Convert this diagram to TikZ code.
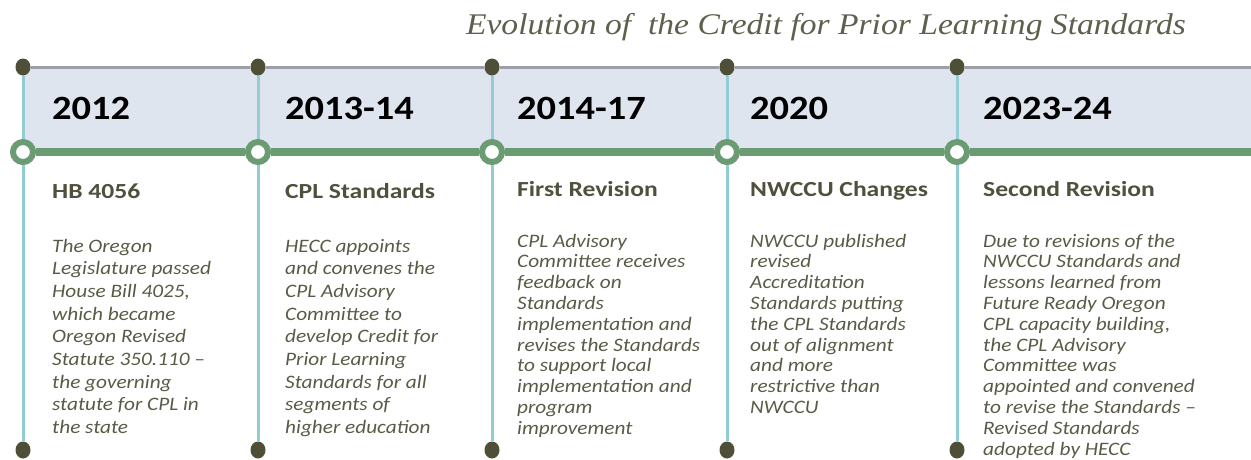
\documentclass[tikz,border=0pt]{standalone}
\usepackage{fontspec}
\setmainfont{Carlito}
\newfontfamily\yearfont[FakeStretch=1.13]{Carlito Bold}
\newfontfamily\headfont[FakeStretch=1.19]{Carlito Bold}
\newfontfamily\bodyfont[FakeStretch=1.12]{Carlito Italic}
\newfontfamily\titlefont[FakeStretch=1.12]{Liberation Serif Italic}
\usetikzlibrary{positioning,shapes.geometric}
\definecolor{bandfill}{HTML}{DEE5EE}
\definecolor{topgray}{HTML}{9C9EAA}
\definecolor{dotbrown}{HTML}{4F4F38}
\definecolor{stemteal}{HTML}{92CDD3}
\definecolor{lineGreen}{HTML}{6A9B72}
\definecolor{headcol}{HTML}{50503D}
\definecolor{bodycol}{HTML}{5A5A47}
\definecolor{titlecol}{HTML}{5F5F4E}
\tikzset{
  dot/.style={ellipse, fill=dotbrown, inner sep=0pt, minimum width=15pt, minimum height=17pt},
  ring/.style={circle, draw=lineGreen, line width=6pt, fill=white, minimum size=20pt, inner sep=0pt},
  stem/.style={draw=stemteal, line width=3pt},
  year/.style={anchor=base west, inner sep=0pt, text=black, font=\yearfont\fontsize{34}{38}\selectfont},
  heading/.style={anchor=base west, inner sep=0pt, text=headcol, font=\headfont\fontsize{21.5}{24}\selectfont},
  body/.style={anchor=base west, inner sep=0pt, align=left, text=bodycol, font=\bodyfont\fontsize{19}{#1}\selectfont},
  body/.default=20.8
}

\begin{document}
\begin{tikzpicture}[x=1pt,y=-1pt]
    \useasboundingbox (0,0) rectangle (1251,459);
    \fill[bandfill] (23,67) rectangle (1251,152);
    \coordinate (topend) at (1251,67);
    \coordinate (lineend) at (1251,152);
    \node[anchor=base, inner sep=0pt, text=titlecol, font=\titlefont\fontsize{30}{32}\selectfont] (title) at (826,34)
        {Evolution of \ the Credit for Prior Learning Standards};
    \foreach \i/\x in {1/23,2/258,3/492,4/727,5/957} {
        \node[dot] (top\i) at (\x,67) {};
        \node[dot] (bot\i) at (\x,450) {};
        \node[ring] (ring\i) at (\x,152) {};
    }
    \foreach \i/\j in {1/2,2/3,3/4,4/5} {
        \draw[topgray, line width=3pt] (top\i) -- (top\j);
        \draw[lineGreen, line width=8pt] (ring\i) -- (ring\j);
    }
    \draw[topgray, line width=3pt] (top5) -- (topend);
    \draw[lineGreen, line width=8pt] (ring5) -- (lineend);
    \foreach \i in {1,...,5} {
        \draw[stem] (top\i) -- (ring\i);
        \draw[stem] (ring\i) -- (bot\i);
    }

    \node[year] (y1) at (52,119) {2012};
    \node[year] (y2) at (285,119) {2013-14};
    \node[year] (y3) at (517,119) {2014-17};
    \node[year] (y4) at (750,119) {2020};
    \node[year] (y5) at (983,119) {2023-24};

    \node[heading] (h1) at (52,198) {HB 4056};
    \node[heading] (h2) at (285,198) {CPL Standards};
    \node[heading] (h3) at (517,196) {First Revision};
    \node[heading] (h4) at (750,196) {NWCCU Changes};
    \node[heading] (h5) at (983,196) {Second Revision};

    \node[body=22.7] (b1) at (52,433.6) {The Oregon\\Legislature passed\\House Bill 4025,\\which became\\Oregon Revised\\Statute 350.110 –\\the governing\\statute for CPL in\\the state};
    \node[body=22.7] (b2) at (285,433.6) {HECC appoints\\and convenes the\\CPL Advisory\\Committee to\\develop Credit for\\Prior Learning\\Standards for all\\segments of\\higher education};
    \node[body] (b3) at (517,434.2) {CPL Advisory\\Committee receives\\feedback on\\Standards\\implementation and\\revises the Standards\\to support local\\implementation and\\program\\improvement};
    \node[body] (b4) at (750,413.4) {NWCCU published\\revised\\Accreditation\\Standards putting\\the CPL Standards\\out of alignment\\and more\\restrictive than\\NWCCU};
    \node[body] (b5) at (983,455) {Due to revisions of the\\NWCCU Standards and\\lessons learned from\\Future Ready Oregon\\CPL capacity building,\\the CPL Advisory\\Committee was\\appointed and convened\\to revise the Standards –\\Revised Standards\\adopted by HECC};
\end{tikzpicture}
\end{document}
